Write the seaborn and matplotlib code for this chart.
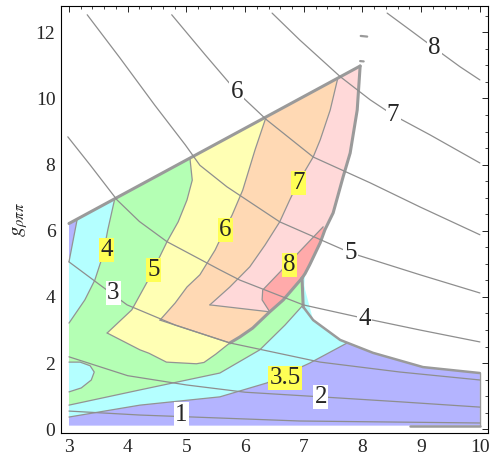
import numpy as np
import pandas as pd
import matplotlib.pyplot as plt
import seaborn as sns
from matplotlib.ticker import MultipleLocator

# ---- contour lines with white labels (level -> points)
c1 = [(3.00, 0.55), (4.21, 0.43), (5.57, 0.34), (6.93, 0.25), (10.0, 0.19)]
c2 = [(3.00, 2.19), (4.00, 1.62), (5.00, 1.34), (6.00, 1.12), (7.29, 0.98), (8.64, 0.83), (10.0, 0.67)]
c3 = [(3.00, 5.06), (3.53, 4.36), (3.99, 3.76), (4.81, 3.15), (5.74, 2.61), (7.28, 2.03), (8.64, 1.73), (10.0, 1.49)]
c4 = [(2.98, 8.84), (3.36, 7.99), (3.82, 6.93), (4.20, 6.28), (4.67, 5.67), (5.57, 4.82), (5.91, 4.51),
      (6.99, 3.76), (8.01, 3.36), (8.98, 3.00), (10.0, 2.64)]
c5 = [(3.31, 12.53), (3.87, 11.22), (4.46, 9.80), (4.98, 8.60), (5.23, 7.98), (5.69, 7.33), (6.59, 6.27),
      (7.80, 5.33), (8.98, 4.67), (10.0, 4.12)]
c6 = [(4.75, 12.53), (5.32, 11.32), (5.86, 10.20), (6.37, 9.35), (7.16, 8.23), (8.13, 7.45), (8.98, 6.72), (10.0, 5.88)]
c7 = [(6.46, 12.58), (6.93, 11.77), (7.62, 10.66), (8.13, 9.96), (8.52, 9.50), (9.15, 8.90), (10.0, 8.05)]
c8 = [(8.42, 12.58), (8.81, 12.07), (9.22, 11.53), (9.66, 10.96), (10.0, 10.56)]
contours = {1: c1, 2: c2, 3: c3, 4: c4, 5: c5, 6: c6, 7: c7, 8: c8}

white_text = ['1', '2', '3', '4', '5', '6', '7', '8']
white_pos = [(4.91, 0.44), (7.29, 0.98), (3.75, 4.12), (8.04, 3.33), (7.80, 5.33), (5.86, 10.20), (8.52, 9.50), (9.22, 11.53)]

# ---- domain edge
edge_top = [(3.00, 6.22), (7.96, 10.98)]
edge_right = [(7.96, 10.98), (7.91, 9.65), (7.79, 8.35), (7.67, 7.63), (7.50, 6.54), (7.36, 6.03), (7.28, 5.64),
              (7.10, 4.97), (7.02, 4.70), (6.97, 4.57)]
edge_notch = [(6.97, 4.57), (6.99, 3.70)]
edge_low = [(6.99, 3.70), (7.16, 3.30), (7.62, 2.70), (8.18, 2.31), (9.03, 1.88), (10.0, 1.70)]
y_floor = 0.11
jag = [(6.97, 4.57), (6.65, 3.91), (6.42, 3.55), (6.13, 3.06), (5.91, 2.79), (5.74, 2.61)]

# ---- band boundaries
sliver = [(3.14, 6.35), (3.08, 5.80), (3.00, 5.06)]
b35 = [(3.00, 0.37), (4.21, 0.73), (5.57, 0.98), (6.37, 1.40), (7.10, 2.00), (7.74, 2.61)]
b4_low = [(3.00, 0.73), (4.21, 1.19), (5.57, 1.70), (6.25, 2.40), (6.68, 3.15), (6.99, 3.76)]
b4_up = [(3.78, 6.97), (3.66, 6.02), (3.58, 5.27), (3.44, 4.51), (3.27, 3.91), (3.00, 3.21)]
bubble = [(3.00, 2.03), (3.19, 2.03), (3.36, 1.92), (3.43, 1.73), (3.38, 1.49), (3.21, 1.25), (3.00, 1.13)]
b5 = [(5.06, 8.20), (5.10, 7.53), (5.01, 6.93), (4.86, 6.27), (4.67, 5.67), (4.38, 4.61), (4.07, 3.61), (3.65, 2.91)]
yellow_low = [(3.65, 2.91), (4.21, 2.40), (4.36, 2.30), (4.66, 2.03), (5.17, 1.98), (5.30, 2.02), (5.50, 2.27), (5.74, 2.61)]
b6 = [(6.36, 9.45), (6.17, 8.45), (5.96, 7.23), (5.78, 6.48), (5.66, 6.06), (5.49, 5.42), (5.23, 4.67),
      (5.01, 4.30), (4.81, 3.82), (4.55, 3.30)]
orange_low = [(4.55, 3.30), (5.74, 2.61)]
b7 = [(7.58, 10.62), (7.45, 9.65), (7.28, 8.75), (7.16, 8.23), (6.90, 7.45), (6.76, 6.93), (6.59, 6.27),
      (6.34, 5.57), (6.08, 4.91), (5.74, 4.30), (5.40, 3.76)]
pink_low = [(5.40, 3.76), (6.42, 3.55)]
b8 = [(7.33, 6.12), (6.76, 5.06), (6.30, 4.21), (6.29, 3.91), (6.42, 3.55)]

yellow_text = ['3.5', '4', '5', '6', '7', '8']
yellow_pos = [(6.68, 1.55), (3.64, 5.42), (4.44, 4.82), (5.66, 6.03), (6.91, 7.44), (6.76, 4.97)]

band_colors = {'purple': '#b4b4ff', 'cyan': '#b4ffff', 'green': '#b4ffb4', 'yellow': '#ffffb4',
               'orange': '#ffd9b4', 'pink': '#ffd9d9', 'red': '#ffaaaa'}

sns.set_style('white')
plt.rcParams['font.family'] = ['Liberation Serif', 'DejaVu Serif']
plt.rcParams['mathtext.fontset'] = 'stix'

fig = plt.figure(figsize=(4.9, 4.55), dpi=100)
ax = fig.add_axes([0.1245, 0.0484, 0.8714, 0.9385])

rev = lambda p: p[::-1]
up_right = edge_notch + rev(edge_right)[1:]  # from the notch bottom up to the tip

polys = {
    'purple': [(3.00, y_floor), (10.0, y_floor)] + rev(edge_low) + rev(edge_right) + [edge_top[0]],
    'cyan': b35 + [(7.62, 2.70), (7.16, 3.30)] + up_right + sliver,
    'green': b4_low + rev(edge_right) + b4_up + bubble,
    'yellow': [b5[0]] + edge_right + jag[1:] + rev(yellow_low) + rev(b5)[1:],
    'orange': [b6[0]] + edge_right + jag[1:] + rev(orange_low) + rev(b6)[1:],
    'pink': b7 + pink_low[1:] + rev(jag[:3])[1:] + rev(edge_right)[1:],
    'red': b8 + rev(jag[:3])[1:] + [(7.02, 4.70), (7.10, 4.97), (7.28, 5.64), (7.36, 6.03)],
}
for name, pts in polys.items():
    xs, ys = zip(*pts)
    ax.fill(xs, ys, color=band_colors[name], lw=0, zorder=1)

def to_frame(curves):
    rows = [(k, x, y) for k, pts in curves.items() for x, y in pts]
    return pd.DataFrame(rows, columns=['id', 'x', 'y'])

bounds = {'b35': b35, 'b4l': b4_low, 'b4u': b4_up, 'bub': bubble, 'b5': b5, 'yl': yellow_low,
          'b6': b6, 'ol': orange_low, 'b7': b7, 'pl': pink_low, 'b8': b8, 'sl': sliver}
sns.lineplot(data=to_frame(bounds), x='x', y='y', units='id', estimator=None, sort=False,
             color='#939393', linewidth=0.9, ax=ax, legend=False, zorder=2)

# thick domain edge
edges = {'top': edge_top, 'right': edge_right, 'notch': edge_notch, 'jag': jag}
sns.lineplot(data=to_frame(edges), x='x', y='y', units='id', estimator=None, sort=False,
             color='#9a9a9a', linewidth=2.2, ax=ax, legend=False, zorder=3)
sns.lineplot(data=to_frame({'low': edge_low, 'floor': [(8.81, y_floor), (10.0, y_floor)]}),
             x='x', y='y', units='id', estimator=None, sort=False,
             color='#9a9a9a', linewidth=1.8, ax=ax, legend=False, zorder=3)
ax.plot([10.0, 10.0], [1.70, y_floor], color='#9a9a9a', lw=1.0, zorder=3)
ax.plot([7.97, 8.08], [11.89, 11.87], color='#9a9a9a', lw=1.6, zorder=3)
ax.plot([7.96, 8.02], [11.13, 11.12], color='#9a9a9a', lw=1.6, zorder=3)

# white-labelled contour family
sns.lineplot(data=to_frame(contours), x='x', y='y', units='id', estimator=None, sort=False,
             color='#8e8e8e', linewidth=0.9, ax=ax, legend=False, zorder=4)

for t, (x, y) in zip(white_text, white_pos):
    ax.text(x, y, t, fontsize=18, ha='center', va='center', zorder=6,
            bbox=dict(boxstyle='square,pad=0.05', fc='white', ec='none'))
for t, (x, y) in zip(yellow_text, yellow_pos):
    ax.text(x, y, t, fontsize=18, ha='center', va='center', zorder=6,
            bbox=dict(boxstyle='square,pad=0.05', fc='#ffff55', ec='none'))

ax.set_xlim(2.864, 10.138)
ax.set_ylim(-0.112, 12.796)
ax.set_xticks(range(3, 11))
ax.set_yticks(range(0, 13, 2))
ax.xaxis.set_minor_locator(MultipleLocator(0.2))
ax.yaxis.set_minor_locator(MultipleLocator(0.5))
ax.tick_params(which='both', direction='in', top=True, right=True, labelsize=14, pad=4)
ax.tick_params(which='major', length=4.5, width=0.7)
ax.tick_params(which='minor', length=2.5, width=0.6)
ax.set_xlabel('')
ax.set_ylabel(r'$g_{\rho\pi\pi}$', fontsize=15, labelpad=4)
for s in ax.spines.values():
    s.set_color('black')
    s.set_linewidth(0.8)

fig.savefig('out.png', dpi=100)
